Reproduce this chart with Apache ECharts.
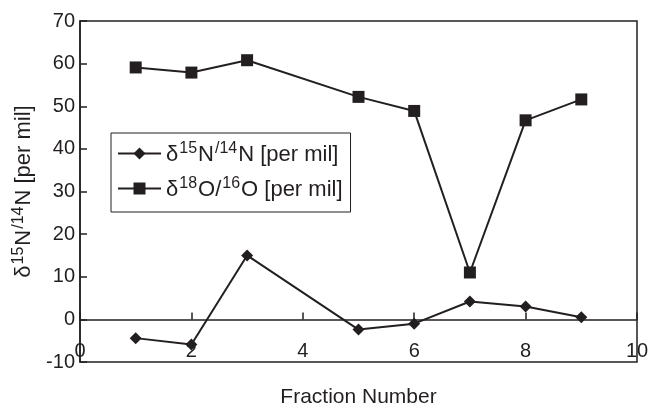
<!DOCTYPE html>
<html>
<head>
<meta charset="utf-8">
<script src="https://cdn.jsdelivr.net/npm/echarts@6/dist/echarts.min.js"></script>
<style>html,body{margin:0;padding:0;background:#fff;}#c{width:653px;height:408px;}</style>
</head>
<body>
<div id="c"></div>
<script>
var fractions = [1, 2, 3, 5, 6, 7, 8, 9];
var deltaN = [-4.4, -5.9, 15.0, -2.4, -1.0, 4.2, 3.0, 0.5];
var deltaO = [59.1, 57.9, 60.8, 52.2, 48.9, 11.0, 46.7, 51.6];
var xTicks = { min: 0, max: 10, interval: 2 };
var yTicks = { min: -10, max: 70, interval: 10 };
var nameN = 'δ15N/14N [per mil]';
var nameO = 'δ18O/16O [per mil]';
var richNameN = '{n|δ}{s|15}{n|N}{s|/14}{n|N [per mil]}';
var richNameO = '{n|δ}{s|18}{n|O/}{s|16}{n|O [per mil]}';

var ink = '#231f20';
var font = 'Liberation Sans, Arial, sans-serif';
var rich = {
  n: { fontSize: 22, fontFamily: font, color: ink, lineHeight: 25, verticalAlign: 'bottom' },
  s: { fontSize: 16, fontFamily: font, color: ink, lineHeight: 14, verticalAlign: 'top', padding: [0, 1, 0, 1] }
};
function pairs(xs, ys) { return xs.map(function (x, i) { return [x, ys[i]]; }); }

var chart = echarts.init(document.getElementById('c'), null, { renderer: 'canvas' });
chart.setOption({
  animation: false,
  backgroundColor: '#fff',
  grid: { left: 80, right: 16, top: 21, bottom: 46, show: true, borderColor: ink, borderWidth: 1.5, containLabel: false, outerBoundsMode: 'none' },
  legend: {
    orient: 'vertical', left: 111, top: 133,
    borderColor: ink, borderWidth: 1, padding: [8, 8, 11, 6],
    itemWidth: 43, itemHeight: 15, itemGap: 10,
    data: [nameN, nameO],
    formatter: function (name) { return name === nameN ? richNameN : richNameO; },
    textStyle: { rich: rich }
  },
  xAxis: {
    type: 'value', min: xTicks.min, max: xTicks.max, interval: xTicks.interval,
    name: 'Fraction Number', nameLocation: 'middle', nameGap: 25,
    nameTextStyle: { fontSize: 21, fontFamily: font, color: ink },
    axisLine: { onZero: true, lineStyle: { color: ink, width: 1.5 } },
    axisTick: { inside: true, length: 7, lineStyle: { color: ink, width: 1.5 } },
    axisLabel: { fontSize: 20, fontFamily: font, color: ink, margin: -21 },
    splitLine: { show: false }
  },
  yAxis: {
    type: 'value', min: yTicks.min, max: yTicks.max, interval: yTicks.interval,
    name: richNameN, nameLocation: 'middle', nameGap: 38,
    nameTextStyle: { rich: rich },
    axisLine: { lineStyle: { color: ink, width: 1.5 } },
    axisTick: { inside: true, length: 7, lineStyle: { color: ink, width: 1.5 } },
    axisLabel: { fontSize: 20, fontFamily: font, color: ink, margin: 5 },
    splitLine: { show: false }
  },
  series: [
    {
      name: nameN, type: 'line', data: pairs(fractions, deltaN),
      symbol: 'diamond', symbolSize: 12,
      lineStyle: { color: ink, width: 2 }, itemStyle: { color: ink }
    },
    {
      name: nameO, type: 'line', data: pairs(fractions, deltaO),
      symbol: 'rect', symbolSize: 12,
      lineStyle: { color: ink, width: 2 }, itemStyle: { color: ink }
    }
  ]
});
</script>
</body>
</html>
